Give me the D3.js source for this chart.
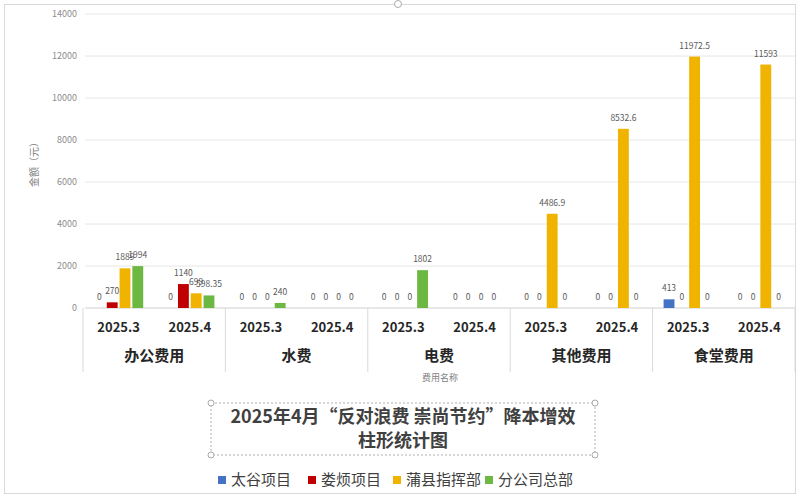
<!DOCTYPE html>
<html><head><meta charset="utf-8">
<script src="https://cdn.jsdelivr.net/npm/d3@7"></script>
<style>body{margin:0;background:#fff}svg{display:block}</style>
</head><body>
<svg id="c" width="800" height="499"></svg>
<script>
const categories = ["办公费用","水费","电费","其他费用","食堂费用"];
const periods = ["2025.3","2025.4"];
const seriesNames = ["太谷项目","娄烦项目","蒲县指挥部","分公司总部"];
const seriesColors = ["#4472C4","#C00000","#F0B400","#6DB843"];
// values[series][category*2 + period]
const taigu   = [0,0, 0,0, 0,0, 0,0, 413,0];
const loufan  = [270,1140, 0,0, 0,0, 0,0, 0,0];
const puxian  = [1889,699, 0,0, 0,0, 4486.9,8532.6, 11972.5,11593];
const fengongsi = [1994,598.35, 240,0, 1802,0, 0,0, 0,0];
const seriesValues = [taigu, loufan, puxian, fengongsi];
const yTicks = [0,2000,4000,6000,8000,10000,12000,14000];
const titleLines = ["2025年4月“反对浪费 崇尚节约”降本增效","柱形统计图"];
const yTitle = "金额（元）";
const xTitle = "费用名称";

const svg = d3.select("#c");
const font = "'Noto Sans CJK SC','Noto Sans',sans-serif";
svg.append("rect").attr("x",4.5).attr("y",4.5).attr("width",791).attr("height",489)
  .attr("fill","#fff").attr("stroke","#d9d9d9");
svg.append("circle").attr("cx",398).attr("cy",4).attr("r",3.5).attr("fill","#fff").attr("stroke","#aaa");

const y = d3.scaleLinear().domain([0,14000]).range([308,14]);
const x0 = d3.scaleBand().domain(categories).range([83,795]);
const x1 = d3.scaleBand().domain(periods).range([0,x0.bandwidth()]);
const x2 = d3.scaleBand().domain(seriesNames).range([0,x1.bandwidth()]).paddingInner(0.15).paddingOuter(0.86);

// gridlines
svg.append("g").selectAll("line").data(yTicks).join("line")
  .attr("x1",85).attr("x2",795).attr("y1",d=>y(d)).attr("y2",d=>y(d))
  .attr("stroke",d=>d===0?"#d0d0d0":"#e6e6e6").attr("stroke-width",1);
// y axis labels
const yAxis = d3.axisLeft(y).tickValues(yTicks).tickFormat(d3.format("d")).tickSize(0).tickPadding(6);
const ga = svg.append("g").attr("transform","translate(83,0)").call(yAxis);
ga.select(".domain").remove();
ga.selectAll("text").attr("font-family",font).attr("font-size",9).attr("fill","#8c8c8c");

// y title
svg.append("text").attr("transform","translate(38,162) rotate(-90)").attr("text-anchor","middle")
  .attr("font-family",font).attr("font-size",10).attr("fill","#7f7f7f").text(yTitle);

// category separators
const bounds = categories.map(c=>x0(c)).concat([795]);
svg.append("g").selectAll("line").data(bounds).join("line")
  .attr("x1",d=>d).attr("x2",d=>d).attr("y1",308).attr("y2",372)
  .attr("stroke","#d9d9d9");

// bars
const rows = [];
categories.forEach((c,ci)=>periods.forEach((p,pi)=>seriesNames.forEach((s,si)=>{
  rows.push({c,p,s,si,v:seriesValues[si][ci*2+pi]});
})));
const g = svg.append("g");
g.selectAll("rect").data(rows).join("rect")
  .attr("x",d=>x0(d.c)+x1(d.p)+x2(d.s)).attr("width",x2.bandwidth())
  .attr("y",d=>y(d.v)).attr("height",d=>y(0)-y(d.v))
  .attr("fill",d=>seriesColors[d.si]);
g.selectAll("text").data(rows).join("text")
  .attr("x",d=>x0(d.c)+x1(d.p)+x2(d.s)+x2.bandwidth()/2).attr("y",d=>y(d.v)-8)
  .attr("text-anchor","middle").attr("font-family",font).attr("font-size",8.5).attr("fill","#595959")
  .text(d=>d.v);

// period labels
const pl = [];
categories.forEach(c=>periods.forEach(p=>pl.push({c,p})));
svg.append("g").selectAll("text").data(pl).join("text")
  .attr("x",d=>x0(d.c)+x1(d.p)+x1.bandwidth()/2).attr("y",332)
  .attr("text-anchor","middle").attr("font-family",font).attr("font-weight","bold")
  .attr("font-size",13).attr("fill","#262626").text(d=>d.p);
// category labels
svg.append("g").selectAll("text").data(categories).join("text")
  .attr("x",d=>x0(d)+x0.bandwidth()/2).attr("y",361)
  .attr("text-anchor","middle").attr("font-family",font).attr("font-weight","bold")
  .attr("font-size",15).attr("fill","#262626").text(d=>d);
// x title
svg.append("text").attr("x",440).attr("y",381).attr("text-anchor","middle")
  .attr("font-family",font).attr("font-size",9).attr("fill","#7f7f7f").text(xTitle);

// title box
const tb = {x:211,y:403,w:384,h:52};
svg.append("rect").attr("x",tb.x).attr("y",tb.y).attr("width",tb.w).attr("height",tb.h)
  .attr("fill","none").attr("stroke","#b0b0b0").attr("stroke-dasharray","2,2");
[[tb.x,tb.y],[tb.x+tb.w,tb.y],[tb.x,tb.y+tb.h],[tb.x+tb.w,tb.y+tb.h]].forEach(([cx,cy])=>{
  svg.append("circle").attr("cx",cx).attr("cy",cy).attr("r",3).attr("fill","#fff").attr("stroke","#aaa");
});
svg.append("g").selectAll("text").data(titleLines).join("text")
  .attr("x",403).attr("y",(d,i)=>423+i*24).attr("text-anchor","middle")
  .attr("font-family",font).attr("font-weight","bold").attr("font-size",18).attr("fill","#404040")
  .text(d=>d);

// legend
const legX = [218,308,393,485];
const lg = svg.append("g").selectAll("g").data(seriesNames).join("g")
  .attr("transform",(d,i)=>`translate(${legX[i]},476)`);
lg.append("rect").attr("width",8).attr("height",8).attr("fill",(d,i)=>seriesColors[i]);
lg.append("text").attr("x",13).attr("y",9).attr("font-family",font).attr("font-size",15)
  .attr("fill","#404040").text(d=>d);
</script>
</body></html>
